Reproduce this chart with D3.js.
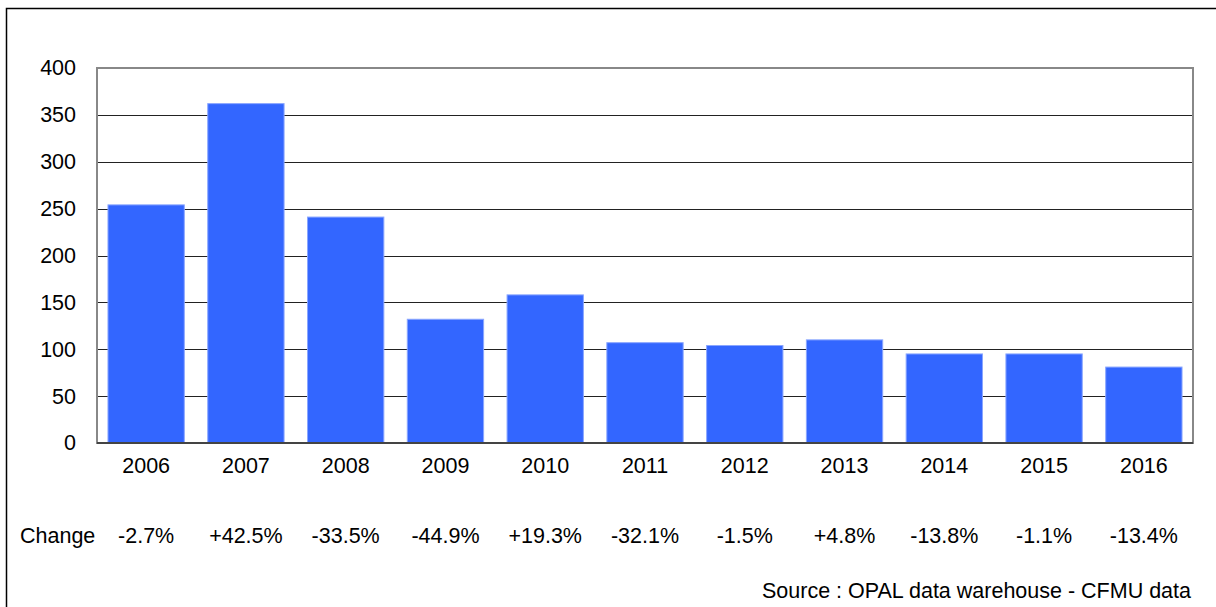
<!DOCTYPE html>
<html>
<head>
<meta charset="utf-8">
<script src="https://cdn.jsdelivr.net/npm/d3@7"></script>
<style>
  body { margin: 0; background: #fff; }
  text { font-family: "Liberation Sans", Arial, sans-serif; fill: #000; }
</style>
</head>
<body>
<svg id="chart" width="1216" height="607"></svg>
<script>
// data
const years = ['2006','2007','2008','2009','2010','2011','2012','2013','2014','2015','2016'];
const values = [254, 362, 241, 132, 158, 107, 104, 110, 95, 95, 81];
const changes = ['-2.7%','+42.5%','-33.5%','-44.9%','+19.3%','-32.1%','-1.5%','+4.8%','-13.8%','-1.1%','-13.4%'];
const yTicks = [0, 50, 100, 150, 200, 250, 300, 350, 400];

const width = 1216;
const height = 607;
const margin = { left: 97, top: 68, right: 23, bottom: 164 };
const innerW = width - margin.left - margin.right;
const innerH = height - margin.top - margin.bottom;
const fontSize = '21.5px';

const svg = d3.select('#chart');

// outer frame
svg.append('rect')
  .attr('x', 6.5).attr('y', 8.5)
  .attr('width', 1240).attr('height', 640)
  .attr('fill', 'none')
  .attr('stroke', '#000')
  .attr('stroke-width', 1.5);

const x = d3.scaleBand()
  .domain(years)
  .range([0, innerW])
  .paddingInner(0.235)
  .paddingOuter(0.11);

const y = d3.scaleLinear()
  .domain([0, 400])
  .range([innerH, 0]);

const g = svg.append('g')
  .attr('transform', `translate(${margin.left},${margin.top})`);

// gridlines
g.selectAll('line.grid')
  .data(yTicks.filter(d => d > 0 && d < 400))
  .enter().append('line')
  .attr('class', 'grid')
  .attr('x1', 0).attr('x2', innerW)
  .attr('y1', d => Math.round(y(d)) + 0.5)
  .attr('y2', d => Math.round(y(d)) + 0.5)
  .attr('stroke', '#222')
  .attr('stroke-width', 1.2);

// bars
g.selectAll('rect.bar')
  .data(values)
  .enter().append('rect')
  .attr('class', 'bar')
  .attr('x', (d, i) => x(years[i]))
  .attr('y', d => y(d))
  .attr('width', x.bandwidth())
  .attr('height', d => innerH - y(d))
  .attr('fill', '#3366ff')
  .attr('stroke', '#8aa6ff')
  .attr('stroke-width', 1);

// plot frame
g.append('rect')
  .attr('x', 0).attr('y', 0)
  .attr('width', innerW).attr('height', innerH)
  .attr('fill', 'none')
  .attr('stroke', '#888')
  .attr('stroke-width', 2);

g.append('line')
  .attr('x1', 0).attr('x2', innerW)
  .attr('y1', innerH).attr('y2', innerH)
  .attr('stroke', '#444')
  .attr('stroke-width', 2);

// y axis labels
const yAxis = d3.axisLeft(y).tickValues(yTicks).tickSize(0).tickPadding(21);
g.append('g')
  .call(yAxis)
  .call(s => s.select('.domain').remove())
  .selectAll('text')
  .style('font-size', fontSize)
  .attr('fill', '#000');

// x axis labels
const xAxis = d3.axisBottom(x).tickSize(0).tickPadding(15);
g.append('g')
  .attr('transform', `translate(0,${innerH})`)
  .call(xAxis)
  .call(s => s.select('.domain').remove())
  .selectAll('text')
  .style('font-size', fontSize)
  .attr('fill', '#000');

// change row
g.append('text')
  .attr('x', 20 - margin.left)
  .attr('y', 543 - margin.top)
  .style('font-size', fontSize)
  .text('Change');

g.selectAll('text.chg')
  .data(changes)
  .enter().append('text')
  .attr('class', 'chg')
  .attr('x', (d, i) => x(years[i]) + x.bandwidth() / 2)
  .attr('y', 543 - margin.top)
  .attr('text-anchor', 'middle')
  .style('font-size', fontSize)
  .text(d => d);

// source
svg.append('text')
  .attr('x', 1191)
  .attr('y', 598)
  .attr('text-anchor', 'end')
  .style('font-size', fontSize)
  .text('Source : OPAL data warehouse - CFMU data');
</script>
</body>
</html>
